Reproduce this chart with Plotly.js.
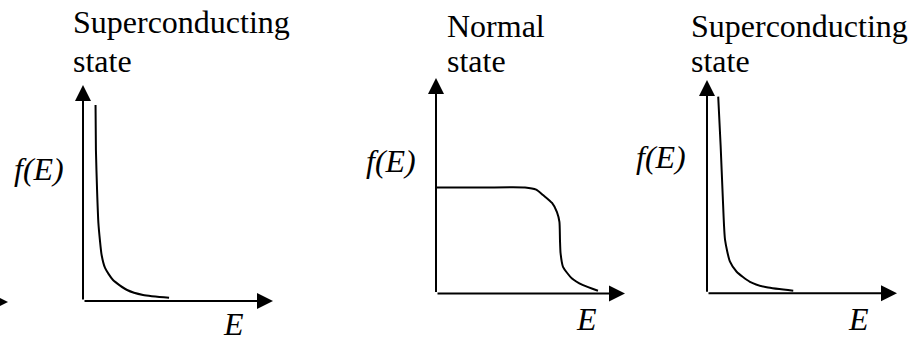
<!DOCTYPE html>
<html lang="en">
<head>
    <meta charset="UTF-8">
    <title>Distribution function f(E)</title>
    <script src="https://cdn.plot.ly/plotly-3.0.1.min.js"></script>
    <style>
        html, body {
            margin: 0;
            padding: 0;
            background: #fff;
        }
        #chart {
            width: 917px;
            height: 345px;
        }
        #chart text {
            font-family: 'Liberation Serif' !important;
        }
    </style>
</head>
<body>
<div id="chart"></div>
<script>
// panel titles (two lines each)
const titleLine1 = ['Superconducting', 'Normal', 'Superconducting'];
const titleLine2 = ['state', 'state', 'state'];
const yLabel = 'f(E)';
const xLabel = 'E';

// curves (axis units 0..10)
const scE1 = [0.66, 0.68, 0.74, 0.81, 0.89, 0.98, 1.16, 1.58, 2.32, 3.16, 4.53];
const scF1 = [9.07, 6.99, 5.14, 3.61, 2.82, 2.13, 1.53, 0.97, 0.51, 0.28, 0.15];

const nE = [0, 2.5, 4.71, 5.30, 5.66, 6.14, 6.40, 6.53, 6.56, 6.59, 6.72, 7.18, 7.78, 8.57];
const nF = [4.92, 4.92, 4.92, 4.82, 4.57, 4.20, 3.78, 3.32, 2.48, 1.88, 1.24, 0.71, 0.39, 0.13];

const scE2 = [0.59, 0.72, 0.83, 0.95, 1.21, 1.56, 2.26, 3.14, 4.54];
const scF2 = [9.22, 6.87, 4.53, 2.50, 1.48, 1.01, 0.54, 0.28, 0.12];

const W = 917, H = 345;
const px = v => v / W;
const py = v => 1 - v / H;

// pixel boxes: origin -> arrow tips
const boxes = [
    {x0: 83, x1: 273, y0: 301, y1: 85},
    {x0: 436, x1: 625, y0: 293.5, y1: 78},
    {x0: 707, x1: 897, y0: 293.3, y1: 80}
];

const curves = [[scE1, scF1], [nE, nF], [scE2, scF2]];

const data = curves.map((c, i) => ({
    x: c[0],
    y: c[1],
    xaxis: i === 0 ? 'x' : 'x' + (i + 1),
    yaxis: i === 0 ? 'y' : 'y' + (i + 1),
    type: 'scatter',
    mode: 'lines',
    line: {color: '#000', width: 2, shape: 'spline', smoothing: 0.6},
    hoverinfo: 'skip',
    showlegend: false
}));

const textFont = {family: 'Times New Roman', size: 32, color: 'black'};

const layout = {
    width: W,
    height: H,
    margin: {l: 0, r: 0, t: 0, b: 0},
    paper_bgcolor: '#fff',
    plot_bgcolor: 'rgba(0,0,0,0)',
    showlegend: false,
    annotations: []
};

const hidden = {
    range: [0, 10],
    showgrid: false,
    zeroline: false,
    showline: false,
    showticklabels: false,
    ticks: '',
    fixedrange: true
};

boxes.forEach((b, i) => {
    const s = i === 0 ? '' : String(i + 1);
    layout['xaxis' + s] = Object.assign({}, hidden, {
        domain: [px(b.x0), px(b.x1)],
        anchor: 'y' + s
    });
    layout['yaxis' + s] = Object.assign({}, hidden, {
        domain: [py(b.y0), py(b.y1)],
        anchor: 'x' + s
    });
    // axis arrows
    const arrow = {
        xref: 'x' + s, yref: 'y' + s, axref: 'x' + s, ayref: 'y' + s,
        ax: 0, ay: 0, text: '', showarrow: true,
        arrowhead: 2, arrowsize: 1.6, arrowwidth: 2, arrowcolor: '#000'
    };
    layout.annotations.push(Object.assign({}, arrow, {x: 10, y: 0}));
    layout.annotations.push(Object.assign({}, arrow, {x: 0, y: 10}));
});

// cut-off arrow from the previous figure at the left edge
layout.annotations.push({
    xref: 'paper', yref: 'paper', x: px(8), y: py(302),
    ax: -40, ay: 0, text: '', showarrow: true,
    arrowhead: 2, arrowsize: 1.6, arrowwidth: 2, arrowcolor: '#000'
});

function label(text, x, y, italic) {
    layout.annotations.push({
        xref: 'paper', yref: 'paper', x: px(x), y: py(y),
        xanchor: 'left', yanchor: 'middle',
        text: italic ? '<i>' + text + '</i>' : text,
        font: textFont,
        showarrow: false, borderpad: 0
    });
}

const titleX = [72, 446, 690];
const titleY1 = [22.3, 25.7, 25.7];
const fX = [13, 365, 635];
const fY = [169, 161, 157];
const eX = [222, 575, 847];
const eY = [324, 319, 319];

for (let i = 0; i < 3; i++) {
    label(titleLine1[i], titleX[i], titleY1[i], false);
    label(titleLine2[i], titleX[i], 60.7, false);
    label(yLabel, fX[i], fY[i], true);
    label(xLabel, eX[i], eY[i], true);
}

Plotly.newPlot('chart', data, layout, {displayModeBar: false, staticPlot: true});
</script>
</body>
</html>
